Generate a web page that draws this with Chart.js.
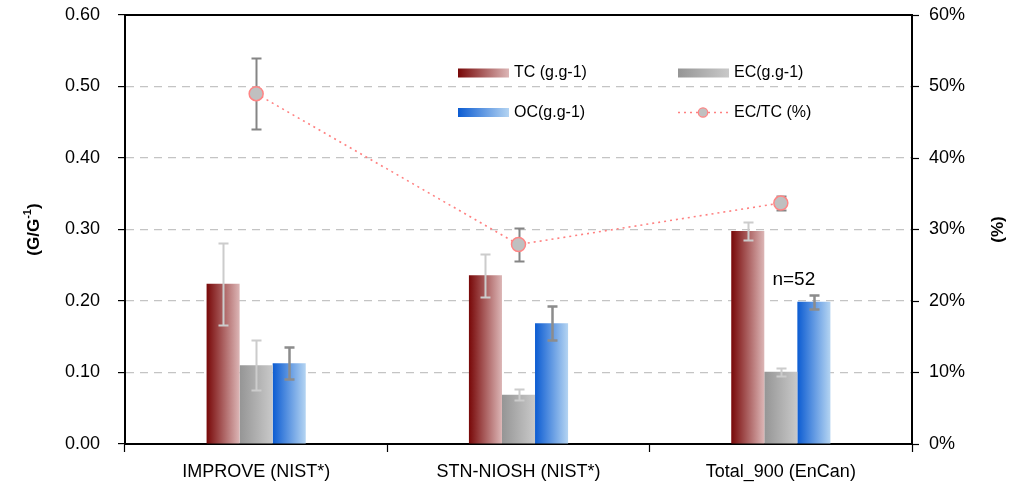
<!DOCTYPE html>
<html>
<head>
<meta charset="utf-8">
<script src="https://cdn.jsdelivr.net/npm/chart.js@4.4.1/dist/chart.umd.min.js"></script>
<style>
    html, body { margin: 0; padding: 0; background: #fff; }
    #wrap { width: 1013px; height: 487px; position: relative; }
</style>
</head>
<body>
<div id="wrap"><canvas id="chart"></canvas></div>
<script>
const categories = ['IMPROVE (NIST*)', 'STN-NIOSH (NIST*)', 'Total_900 (EnCan)'];

const tcValues = [0.224, 0.236, 0.298];
const tcErrors = [0.057, 0.030, 0.013];

const ecValues = [0.110, 0.069, 0.101];
const ecErrors = [0.035, 0.008, 0.0055];

const ocValues = [0.113, 0.169, 0.199];
const ocErrors = [0.022, 0.024, 0.010];

const ratioValues = [49.0, 27.9, 33.7];
const ratioErrors = [5.0, 2.3, 1.0];

const leftTicks = [0, 0.1, 0.2, 0.3, 0.4, 0.5, 0.6];
const rightTicks = [0, 10, 20, 30, 40, 50, 60];

const FONT = '"Liberation Sans", Arial, sans-serif';

/* ===================================================== */
/* PLUGINS                                               */
/* ===================================================== */

// horizontal gradient on every bar
const barGradient = {
    id: 'barGradient',
    beforeDatasetsDraw(chart) {
        const ctx = chart.ctx;
        chart.data.datasets.forEach((ds, i) => {
            if (!ds.gradient) return;
            const meta = chart.getDatasetMeta(i);
            meta.data.forEach(el => {
                const x0 = el.x - el.width / 2;
                const x1 = el.x + el.width / 2;
                const g = ctx.createLinearGradient(x0, 0, x1, 0);
                g.addColorStop(0, ds.gradient[0]);
                g.addColorStop(1, ds.gradient[1]);
                el.options = Object.assign({}, el.options, { backgroundColor: g });
            });
        });
    }
};

function drawErrors(chart, i) {
    const ds = chart.data.datasets[i];
    if (!ds.errors) return;
    const ctx = chart.ctx;
    const meta = chart.getDatasetMeta(i);
    const scale = chart.scales[meta.yAxisID];
    ctx.save();
    ctx.strokeStyle = ds.errorColor;
    ctx.lineWidth = ds.errorWidth || 2;
    meta.data.forEach((el, j) => {
        const v = ds.data[j];
        const e = ds.errors[j];
        const yt = Math.round(scale.getPixelForValue(v + e)) + 0.5;
        const yb = Math.round(scale.getPixelForValue(v - e)) + 0.5;
        const x = Math.round(el.x) + 0.5;
        ctx.beginPath();
        ctx.moveTo(x, yt); ctx.lineTo(x, yb);
        ctx.moveTo(x - 5, yt); ctx.lineTo(x + 5, yt);
        ctx.moveTo(x - 5, yb); ctx.lineTo(x + 5, yb);
        ctx.stroke();
    });
    ctx.restore();
}

const errorBars = {
    id: 'errorBars',
    beforeDatasetDraw(chart, args) {
        if (chart.data.datasets[args.index].type === 'line') drawErrors(chart, args.index);
    },
    afterDatasetDraw(chart, args) {
        if (chart.data.datasets[args.index].type !== 'line') drawErrors(chart, args.index);
    }
};

const decorations = {
    id: 'decorations',
    afterDraw(chart) {
        const ctx = chart.ctx;
        const a = chart.chartArea;

        // top frame line
        ctx.save();
        ctx.strokeStyle = '#000';
        ctx.lineWidth = 2;
        ctx.beginPath();
        ctx.moveTo(a.left - 1, a.top);
        ctx.lineTo(a.right + 1, a.top);
        ctx.stroke();
        ctx.restore();

        // left axis title with superscript
        ctx.save();
        ctx.fillStyle = '#000';
        ctx.translate(34, (a.top + a.bottom) / 2);
        ctx.rotate(-Math.PI / 2);
        ctx.textBaseline = 'middle';
        ctx.font = 'bold 17px ' + FONT;
        const p1 = '(G/G', p3 = ')';
        ctx.font = 'bold 11px ' + FONT;
        const w2 = ctx.measureText('-1').width;
        ctx.font = 'bold 17px ' + FONT;
        const w1 = ctx.measureText(p1).width;
        const w3 = ctx.measureText(p3).width;
        let x = -(w1 + w2 + w3) / 2;
        ctx.textAlign = 'left';
        ctx.fillText(p1, x, 0);
        ctx.font = 'bold 11px ' + FONT;
        ctx.fillText('-1', x + w1, -6);
        ctx.font = 'bold 17px ' + FONT;
        ctx.fillText(p3, x + w1 + w2, 0);
        ctx.restore();

        // right axis title
        ctx.save();
        ctx.fillStyle = '#000';
        ctx.translate(998, (a.top + a.bottom) / 2);
        ctx.rotate(-Math.PI / 2);
        ctx.textAlign = 'center';
        ctx.textBaseline = 'middle';
        ctx.font = 'bold 17px ' + FONT;
        ctx.fillText('(%)', 0, 0);
        ctx.restore();

        // n=52 annotation
        const xs = chart.scales.x, ys = chart.scales.y;
        ctx.save();
        ctx.fillStyle = '#000';
        ctx.font = '19px ' + FONT;
        ctx.textAlign = 'center';
        ctx.textBaseline = 'middle';
        ctx.fillText('n=52', xs.getPixelForValue(2) + 13, ys.getPixelForValue(0.229));
        ctx.restore();

        // legend, 2 x 2
        const sets = chart.data.datasets;
        const slots = [
            { x: 458, y: 73 }, { x: 678, y: 73 },
            { x: 458, y: 112.5 }, { x: 678, y: 112.5 }
        ];
        sets.forEach((ds, i) => {
            const s = slots[i];
            ctx.save();
            if (ds.type === 'line') {
                ctx.strokeStyle = ds.borderColor;
                ctx.lineWidth = ds.borderWidth;
                ctx.setLineDash(ds.borderDash);
                ctx.beginPath();
                ctx.moveTo(s.x, s.y); ctx.lineTo(s.x + 51, s.y);
                ctx.stroke();
                ctx.setLineDash([]);
                ctx.beginPath();
                ctx.arc(s.x + 25, s.y, 4.7, 0, Math.PI * 2);
                ctx.fillStyle = ds.pointBackgroundColor;
                ctx.fill();
                ctx.strokeStyle = ds.pointBorderColor;
                ctx.lineWidth = 1.2;
                ctx.stroke();
            } else {
                const g = ctx.createLinearGradient(s.x, 0, s.x + 51, 0);
                g.addColorStop(0, ds.gradient[0]);
                g.addColorStop(1, ds.gradient[1]);
                ctx.fillStyle = g;
                ctx.fillRect(s.x, s.y - 4.5, 51, 9);
            }
            ctx.fillStyle = '#000';
            ctx.font = '16px ' + FONT;
            ctx.textAlign = 'left';
            ctx.textBaseline = 'middle';
            ctx.fillText(ds.label, s.x + 56, s.y);
            ctx.restore();
        });
    }
};

/* ===================================================== */
/* CHART                                                 */
/* ===================================================== */

function barSet(label, values, errors, gradient, errorColor, errorWidth) {
    return {
        type: 'bar',
        label: label,
        data: values,
        errors: errors,
        gradient: gradient,
        errorColor: errorColor,
        errorWidth: errorWidth,
        backgroundColor: gradient[1],
        borderWidth: 0,
        yAxisID: 'y',
        order: 2,
        categoryPercentage: 0.378,
        barPercentage: 1
    };
}

function fixVertical(width) {
    return scale => {
        scale.width = width;
        scale.paddingTop = 0;
        scale.paddingBottom = 0;
    };
}

new Chart(document.getElementById('chart'), {
    type: 'bar',
    data: {
        labels: categories,
        datasets: [
            barSet('TC (g.g-1)', tcValues, tcErrors, ['#780808', '#dcb6b6'], '#cccccc', 2),
            barSet('EC(g.g-1)', ecValues, ecErrors, ['#959595', '#c9c9c9'], '#cccccc', 2),
            barSet('OC(g.g-1)', ocValues, ocErrors, ['#0c5cd2', '#b4d4f2'], '#8c8c8c', 2.5),
            {
                type: 'line',
                label: 'EC/TC (%)',
                data: ratioValues,
                errors: ratioErrors,
                errorColor: '#858585',
                errorWidth: 2,
                yAxisID: 'y1',
                order: 1,
                borderColor: '#ff8080',
                borderWidth: 1.6,
                borderDash: [2, 4],
                fill: false,
                tension: 0,
                pointRadius: 7,
                pointBackgroundColor: '#c0c0c0',
                pointBorderColor: '#ff8585',
                pointBorderWidth: 1.5
            }
        ]
    },
    options: {
        responsive: true,
        maintainAspectRatio: false,
        animation: false,
        layout: { padding: { top: 15, left: 0, right: 0, bottom: 0 } },
        plugins: {
            legend: { display: false },
            tooltip: { enabled: false }
        },
        scales: {
            x: {
                offset: true,
                grid: {
                    offset: true,
                    drawOnChartArea: false,
                    drawTicks: true,
                    tickLength: 8,
                    tickColor: '#000',
                    tickWidth: 1.2
                },
                border: { display: true, color: '#000', width: 2 },
                ticks: {
                    color: '#000',
                    padding: 9,
                    font: { family: FONT, size: 18 },
                    maxRotation: 0
                },
                afterFit(scale) {
                    scale.height = 43;
                    scale.paddingLeft = 0;
                    scale.paddingRight = 0;
                }
            },
            y: {
                position: 'left',
                min: 0,
                max: 0.6,
                afterBuildTicks(scale) { scale.ticks = leftTicks.map(v => ({ value: v })); },
                grid: {
                    color: c => (c.tick && (c.tick.value === 0 || c.tick.value === 0.6)) ? 'rgba(0,0,0,0)' : '#c4c4c4',
                    lineWidth: 1.2,
                    tickColor: '#000',
                    tickLength: 7,
                    tickWidth: 1.2,
                    tickBorderDash: []
                },
                border: { display: true, color: '#000', width: 2, dash: [8, 6] },
                ticks: {
                    color: '#000',
                    padding: 18,
                    font: { family: FONT, size: 18 },
                    callback: v => Number(v).toFixed(2)
                },
                afterFit: fixVertical(125)
            },
            y1: {
                position: 'right',
                min: 0,
                max: 60,
                afterBuildTicks(scale) { scale.ticks = rightTicks.map(v => ({ value: v })); },
                grid: {
                    drawOnChartArea: false,
                    tickColor: '#000',
                    tickLength: 7,
                    tickWidth: 1.2
                },
                border: { display: true, color: '#000', width: 2 },
                ticks: {
                    color: '#000',
                    padding: 10,
                    font: { family: FONT, size: 18 },
                    callback: v => v + '%'
                },
                afterFit: fixVertical(101)
            }
        }
    },
    plugins: [barGradient, errorBars, decorations]
});
</script>
</body>
</html>
